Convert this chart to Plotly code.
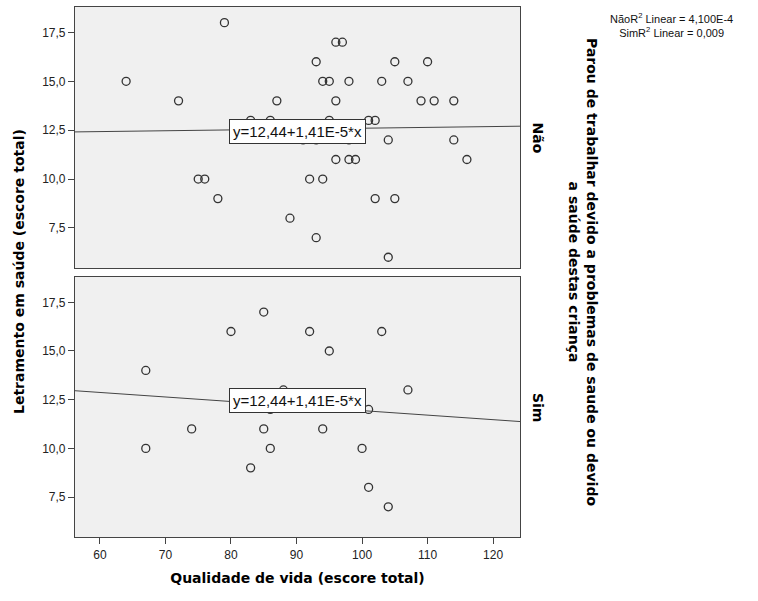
import plotly.graph_objects as go

# Qualidade de vida (x) vs Letramento em saúde (y), split by the "Parou de trabalhar" answer
nao_qv = [79, 96, 97, 93, 105, 110, 64, 94, 95, 98, 103, 107, 72, 87, 96, 109, 111, 114,
          83, 86, 95, 101, 102, 91, 93, 98, 104, 114, 96, 98, 99, 116, 75, 76, 92, 94,
          78, 102, 105, 89, 93, 104]
nao_let = [18, 17, 17, 16, 16, 16, 15, 15, 15, 15, 15, 15, 14, 14, 14, 14, 14, 14,
           13, 13, 13, 13, 13, 12, 12, 12, 12, 12, 11, 11, 11, 11, 10, 10, 10, 10,
           9, 9, 9, 8, 7, 6]

sim_qv = [85, 80, 92, 103, 95, 67, 88, 107, 86, 101, 74, 85, 94, 67, 86, 100, 83, 101, 104]
sim_let = [17, 16, 16, 16, 15, 14, 13, 13, 12, 12, 11, 11, 11, 10, 10, 10, 9, 8, 7]

# Per-group linear fit lines (intercept, slope) and the common equation label
fit_nao = (12.17, 0.0043)
fit_sim = (14.27, -0.0233)
eq_label = "y=12,44+1,41E-5*x"
eq_pos = (90.2, 12.44)
r2_text = ["NãoR<sup>2</sup> Linear = 4,100E-4", "SimR<sup>2</sup> Linear = 0,009"]

x_range = [56.2, 124.1]
y_range = [5.45, 18.8]
x_ticks = [60, 70, 80, 90, 100, 110, 120]
y_ticks = [7.5, 10.0, 12.5, 15.0, 17.5]
y_ticktext = ["7,5", "10,0", "12,5", "15,0", "17,5"]

panel_bg = "#F0F0F0"
edge = "#444444"
tick_font = dict(family="Liberation Sans, Arial, sans-serif", size=12, color="#222222")
title_font = dict(family="DejaVu Sans, sans-serif", size=14, color="#000000")

marker = dict(symbol="circle-open", size=8, color="#333333", line=dict(width=1.3, color="#333333"))

fig = go.Figure()

# top panel: Não
fig.add_trace(go.Scatter(x=nao_qv, y=nao_let, mode="markers", marker=marker,
                         xaxis="x2", yaxis="y2", showlegend=False, hoverinfo="x+y"))
fig.add_trace(go.Scatter(x=x_range, y=[fit_nao[0] + fit_nao[1] * v for v in x_range],
                         mode="lines", line=dict(color=edge, width=1),
                         xaxis="x2", yaxis="y2", showlegend=False, hoverinfo="skip"))
# bottom panel: Sim
fig.add_trace(go.Scatter(x=sim_qv, y=sim_let, mode="markers", marker=marker,
                         xaxis="x", yaxis="y", showlegend=False, hoverinfo="x+y"))
fig.add_trace(go.Scatter(x=x_range, y=[fit_sim[0] + fit_sim[1] * v for v in x_range],
                         mode="lines", line=dict(color=edge, width=1),
                         xaxis="x", yaxis="y", showlegend=False, hoverinfo="skip"))

common_y = dict(range=y_range, tickvals=y_ticks, ticktext=y_ticktext, ticks="outside",
                ticklen=6, tickcolor=edge, tickfont=tick_font, showgrid=False,
                zeroline=False, showline=True, mirror=True, linecolor=edge, linewidth=1.2)

fig.update_layout(
    width=758, height=601,
    margin=dict(l=75, r=238, t=7, b=64),
    paper_bgcolor="white",
    plot_bgcolor=panel_bg,
    xaxis=dict(range=x_range, tickvals=x_ticks, ticks="outside", ticklen=6, tickcolor=edge,
               tickfont=tick_font, showgrid=False, zeroline=False, showline=True, mirror=True,
               linecolor=edge, linewidth=1.2, anchor="y",
               title=dict(text="<b>Qualidade de vida (escore total)</b>", font=title_font,
                          standoff=12)),
    xaxis2=dict(range=x_range, matches="x", showticklabels=False, ticks="", showgrid=False,
                zeroline=False, showline=True, mirror=True, linecolor=edge, linewidth=1.2,
                anchor="y2"),
    yaxis=dict(domain=[0, 0.4906], anchor="x", **common_y),
    yaxis2=dict(domain=[0.5075, 1.0], anchor="x2", **common_y),
)

annotations = []
for yref in ("y2", "y"):
    annotations.append(dict(x=eq_pos[0], y=eq_pos[1], xref="x" if yref == "y" else "x2",
                            yref=yref, text=eq_label, showarrow=False,
                            font=dict(family="Liberation Sans, Arial, sans-serif", size=15,
                                      color="#111111"),
                            bgcolor="white", bordercolor="#333333", borderwidth=1,
                            borderpad=3))

# y axis title, placed in pixels left of the plot area
annotations.append(dict(x=0, y=0.5, xref="paper", yref="paper", xanchor="center",
                        yanchor="middle", xshift=-56,
                        text="<b>Letramento em saúde (escore total)</b>",
                        textangle=-90, showarrow=False, font=title_font))
# strip labels
annotations.append(dict(x=1.0, y=0.7537, xref="paper", yref="paper", xanchor="left",
                        yanchor="middle", xshift=8, text="<b>Não</b>", textangle=90,
                        showarrow=False, font=title_font))
annotations.append(dict(x=1.0, y=0.2453, xref="paper", yref="paper", xanchor="left",
                        yanchor="middle", xshift=8, text="<b>Sim</b>", textangle=90,
                        showarrow=False, font=title_font))
# panel variable title
annotations.append(dict(x=1.0, y=0.5, xref="paper", yref="paper", xanchor="left",
                        yanchor="middle", xshift=44,
                        text="<b>Parou de trabalhar devido a problemas de saude ou devido<br>a saúde destas criança</b>",
                        textangle=90, showarrow=False, font=title_font))
# R² legend
annotations.append(dict(x=1.0, y=1.0, xref="paper", yref="paper", xanchor="left",
                        yanchor="top", xshift=88, yshift=-2,
                        text="<br>".join(r2_text), showarrow=False, align="center",
                        font=dict(family="Liberation Sans, Arial, sans-serif", size=11,
                                  color="#111111")))
fig.update_layout(annotations=annotations)

fig.write_html("out.html")
